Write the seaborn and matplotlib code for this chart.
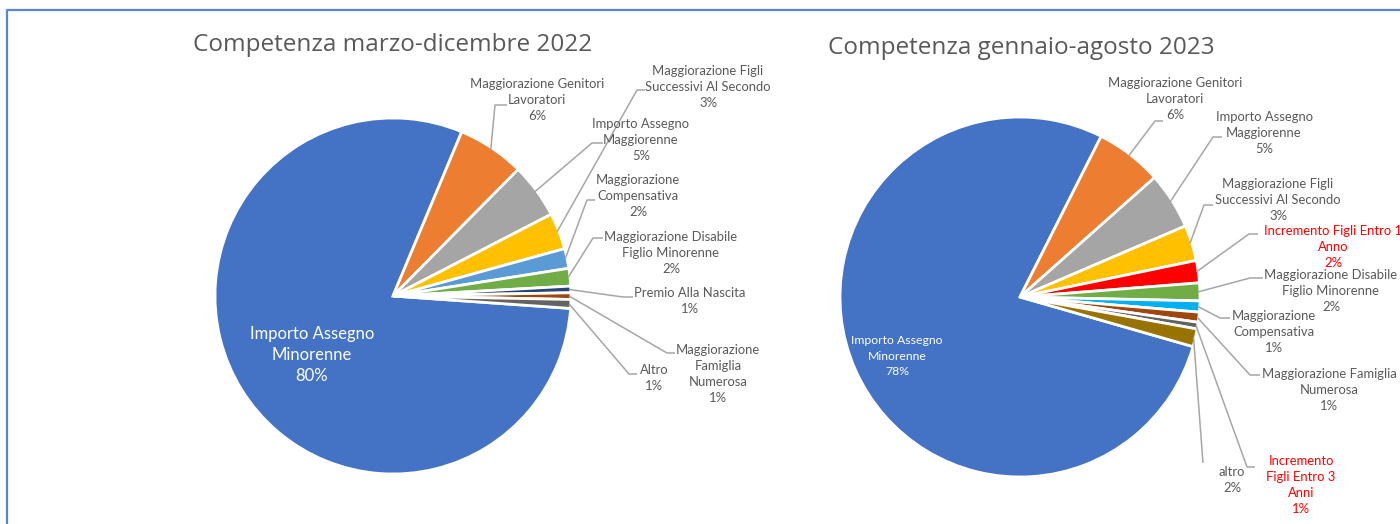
import matplotlib
matplotlib.use("Agg")
import matplotlib.pyplot as plt
import seaborn as sns
import numpy as np

sns.set_theme(style="white")
plt.rcParams['font.family'] = ['Lato', 'DejaVu Sans']

W, H = 1400, 524

# ---------------- data ----------------
title_2022 = "Competenza marzo-dicembre 2022"
labels_2022 = ["Importo Assegno\nMinorenne", "Maggiorazione Genitori\nLavoratori",
               "Importo Assegno\nMaggiorenne", "Maggiorazione Figli\nSuccessivi Al Secondo",
               "Maggiorazione\nCompensativa", "Maggiorazione Disabile\nFiglio Minorenne",
               "Premio Alla Nascita", "Maggiorazione\nFamiglia\nNumerosa", "Altro"]
values_2022 = [80.2, 6.1, 5.0, 3.3, 1.8, 1.6, 0.6, 0.6, 0.8]
colors_2022 = ["#4472C4", "#ED7D31", "#A5A5A5", "#FFC000", "#5B9BD5",
               "#70AD47", "#264478", "#9E480E", "#636363"]
labelcol_2022 = ["white"] + ["#595959"] * 8

title_2023 = "Competenza gennaio-agosto 2023"
labels_2023 = ["Importo Assegno\nMinorenne", "Maggiorazione Genitori\nLavoratori",
               "Importo Assegno\nMaggiorenne", "Maggiorazione Figli\nSuccessivi Al Secondo",
               "Incremento Figli Entro 1\nAnno", "Maggiorazione Disabile\nFiglio Minorenne",
               "Maggiorazione\nCompensativa", "Maggiorazione Famiglia\nNumerosa",
               "Incremento\nFigli Entro 3\nAnni", "altro"]
values_2023 = [78.0, 6.0, 5.1, 3.2, 2.0, 1.6, 1.0, 0.9, 0.6, 1.6]
colors_2023 = ["#4472C4", "#ED7D31", "#A5A5A5", "#FFC000", "#FF0000",
               "#70AD47", "#00B0F0", "#9E480E", "#636363", "#997300"]
labelcol_2023 = ["white", "#595959", "#595959", "#595959", "#FF0000",
                 "#595959", "#595959", "#595959", "#FF0000", "#595959"]

# ---------------- layout (pixel positions, y from top) ----------------
# each: (text centre, elbow point, attach point)
layout_2022 = dict(
    center=(393, 296), radius=178, start=-4, title_pos=(393, 45), inner=(312, 355),
    inner_size=12.0, inner_ls=1.4,
    labels=[((537, 100), (495, 105), (507, 105)),
            ((641, 140), (592, 143), (603, 143)),
            ((708, 87), (637, 90), (645, 90)),
            ((638, 196), (587, 200), (595, 200)),
            ((671, 253), (593, 238), (603, 238)),
            ((690, 301), (623, 297), (633, 297)),
            ((718, 374), (667, 353), (675, 353)),
            ((654, 378), (629, 374), (637, 374))])
layout_2023 = dict(
    center=(1020, 297), radius=180, start=-16, title_pos=(1021, 48), inner=(897, 356),
    inner_size=8.8, inner_ls=1.45,
    labels=[((1175, 99), (1155, 121), (1163, 121)),
            ((1264, 133), (1213, 137), (1222, 137)),
            ((1278, 200), (1204, 205), (1213, 205)),
            ((1333, 247), (1249, 234), (1258, 234)),
            ((1331, 291), (1250, 278), (1263, 278)),
            ((1274, 332), (1220, 318), (1230, 318)),
            ((1329, 390), (1250, 375), (1260, 375)),
            ((1301, 485), (1247, 467), (1255, 467)),
            ((1232, 480), (1203, 463), (1203, 463))])

fig = plt.figure(figsize=(W / 100, H / 100), dpi=100)
ax = fig.add_axes([0, 0, 1, 1])


def P(x, y):
    return x, H - y


def draw(values, labels, colors, lcols, title, lay):
    cx, cy = P(*lay["center"])
    R = lay["radius"]
    wedges, _ = ax.pie(values, colors=colors, startangle=lay["start"], counterclock=False,
                       center=(cx, cy), radius=R,
                       wedgeprops=dict(edgecolor="white", linewidth=2.0))
    total = sum(values)
    pcts = [f"{v / total * 100:.0f}%" for v in values]
    # inner label
    ax.text(*P(*lay["inner"]), f"{labels[0]}\n{pcts[0]}", color=lcols[0],
            fontsize=lay["inner_size"], ha="center", va="center",
            linespacing=lay["inner_ls"])
    for i, (tc, elbow, attach) in enumerate(lay["labels"], start=1):
        w = wedges[i]
        th = np.deg2rad((w.theta1 + w.theta2) / 2)
        sx, sy = cx + R * 0.99 * np.cos(th), cy + R * 0.99 * np.sin(th)
        ex, ey = P(*elbow)
        axx, axy = P(*attach)
        ax.plot([sx, ex, axx], [sy, ey, axy], color="#A6A6A6", lw=1.1,
                solid_capstyle="butt", zorder=1)
        ax.text(*P(*tc), f"{labels[i]}\n{pcts[i]}", color=lcols[i], fontsize=9.4,
                ha="center", va="center", linespacing=1.4)
    ax.text(*P(*lay["title_pos"]), title, color="#595959", fontsize=17.5,
            family=["Open Sans", "DejaVu Sans"], ha="center", va="center")


draw(values_2022, labels_2022, colors_2022, labelcol_2022, title_2022, layout_2022)
draw(values_2023, labels_2023, colors_2023, labelcol_2023, title_2023, layout_2023)

# chart frame
ax.plot([P(7, 600)[0], P(7, 10)[0], P(1500, 10)[0]],
        [P(7, 600)[1], P(7, 10)[1], P(1500, 10)[1]],
        color="#5B87CF", lw=1.6, clip_on=False, zorder=5)

ax.set_xlim(0, W)
ax.set_ylim(0, H)
ax.set_aspect("equal")
ax.axis("off")

fig.savefig("out.png", dpi=100, facecolor="white")
